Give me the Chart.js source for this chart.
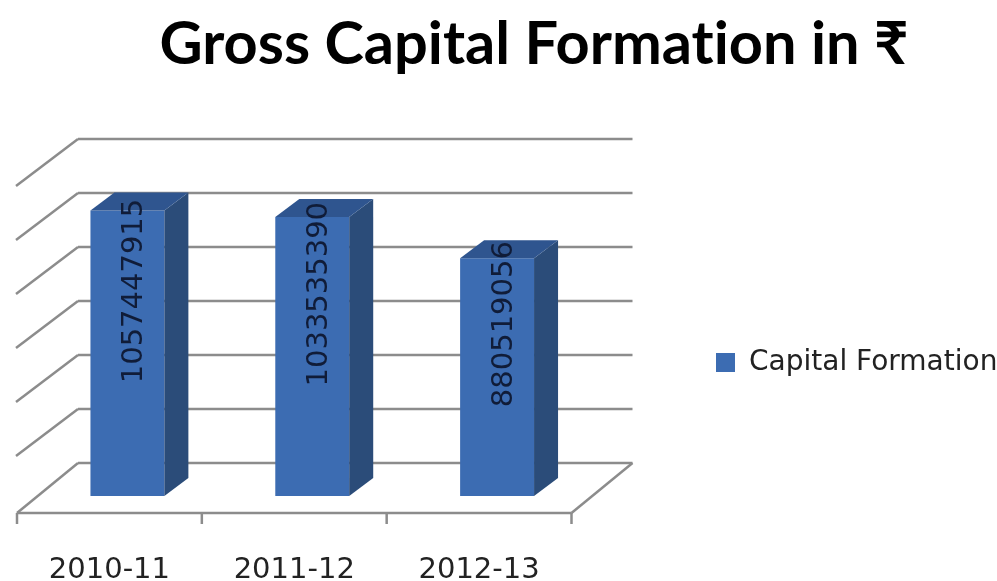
<!DOCTYPE html>
<html><head><meta charset="utf-8">
<style>html,body{margin:0;padding:0;background:#fff}#w{width:997px;height:581px}</style>
<script src="https://cdn.jsdelivr.net/npm/chart.js@4/dist/chart.umd.min.js"></script>
</head><body><div id="w"><canvas id="c"></canvas></div>
<script>
const categories = ['2010-11', '2011-12', '2012-13'];
const seriesName = 'Capital Formation';
const capitalFormation = [1057447915, 1033535390, 880519056];
const titleText = 'Gross Capital Formation in ₹';
const axisMax = 1200000000;
const axisStep = 200000000;

const frontColor = '#3c6cb2', sideColor = '#2b4c79', topColor = '#2f558f', lineColor = '#8c8c8c';
const wall = {dx: 43, dy: -33}, floorFront = {dx: -18, dy: 17}, gridFront = {dx: -19, dy: 14}, depth = {dx: 24, dy: -18};

const solid3d = {
  id: 'solid3d',
  afterLayout(chart) {
    const t = chart.titleBlock; t.left = 71; t.right = 997;
    const l = chart.legend; l.left = 706; l.right = 997; l.top = 262; l.bottom = 463;
  },
  beforeDraw(chart) {
    chart.ctx.textRendering = 'optimizeSpeed';
  },
  beforeDatasetsDraw(chart) {
    const {ctx, scales: {x, y}, chartArea: a} = chart;
    ctx.save();
    ctx.strokeStyle = lineColor; ctx.lineWidth = 2.5; ctx.lineCap = 'butt';
    const line = (x1, y1, x2, y2) => { ctx.beginPath(); ctx.moveTo(x1, y1); ctx.lineTo(x2, y2); ctx.stroke(); };
    for (let v = 0; v <= axisMax; v += axisStep) {
      const py = y.getPixelForValue(v);
      line(a.left + wall.dx, py + wall.dy, a.right + wall.dx, py + wall.dy);
      if (v === 0) {
        line(a.left + floorFront.dx, py + floorFront.dy, a.left + wall.dx, py + wall.dy);
        line(a.right + floorFront.dx, py + floorFront.dy, a.right + wall.dx, py + wall.dy);
        line(a.left + floorFront.dx, py + floorFront.dy, a.right + floorFront.dx, py + floorFront.dy);
      } else {
        line(a.left + gridFront.dx, py + gridFront.dy, a.left + wall.dx, py + wall.dy);
      }
    }
    const base = y.getPixelForValue(0) + floorFront.dy;
    const band = (a.right - a.left) / categories.length;
    for (let i = 0; i <= categories.length; i++) {
      const tx = a.left + band * i + floorFront.dx;
      line(tx, base, tx, base + 11);
    }
    ctx.restore();
  },
  afterDatasetsDraw(chart) {
    const {ctx} = chart;
    const bars = chart.getDatasetMeta(0).data;
    ctx.save();
    bars.forEach((b, i) => {
      const L = b.x - b.width / 2, R = b.x + b.width / 2;
      ctx.fillStyle = sideColor;
      ctx.beginPath(); ctx.moveTo(R, b.y); ctx.lineTo(R + depth.dx, b.y + depth.dy);
      ctx.lineTo(R + depth.dx, b.base + depth.dy); ctx.lineTo(R, b.base); ctx.closePath(); ctx.fill();
      ctx.fillStyle = topColor;
      ctx.beginPath(); ctx.moveTo(L, b.y); ctx.lineTo(L + depth.dx, b.y + depth.dy);
      ctx.lineTo(R + depth.dx, b.y + depth.dy); ctx.lineTo(R, b.y); ctx.closePath(); ctx.fill();
      ctx.save();
      ctx.translate(b.x + 7, (b.y + b.base) / 2 + 30);
      ctx.rotate(-Math.PI / 2);
      ctx.font = '29px "DejaVu Sans"';
      ctx.fillStyle = '#101c38';
      ctx.textAlign = 'left'; ctx.textBaseline = 'middle';
      ctx.fillText(String(capitalFormation[i]), 0, 0);
      ctx.restore();
    });
    ctx.restore();
  }
};

new Chart(document.getElementById('c'), {
  type: 'bar',
  data: {labels: categories, datasets: [{label: seriesName, data: capitalFormation, backgroundColor: frontColor, borderWidth: 0,
    barPercentage: 0.4, categoryPercentage: 1}]},
  plugins: [solid3d],
  options: {
    responsive: true, maintainAspectRatio: false, animation: false,
    layout: {padding: {left: 35, right: 127.5, top: 0, bottom: 0}},
    scales: {
      x: {grid: {display: false, drawTicks: false}, border: {display: false},
        ticks: {labelOffset: -18, padding: 57, maxRotation: 0, color: '#222', font: {family: '"DejaVu Sans"', size: 29}},
        afterFit(s) { s.height = 85; }},
      y: {display: false, min: 0, max: axisMax, ticks: {stepSize: axisStep}}
    },
    plugins: {
      tooltip: {enabled: false},
      title: {display: true, text: titleText, color: '#000', padding: {top: 9, bottom: 91.6},
        font: {family: 'Lato, "Noto Sans"', weight: 'bold', size: 59.5}},
      legend: {position: 'right', maxWidth: 280,
        labels: {boxWidth: 19, boxHeight: 19, color: '#222', padding: 10,
          font: {family: '"DejaVu Sans"', size: 28}}}
    }
  }
});
</script></body></html>
